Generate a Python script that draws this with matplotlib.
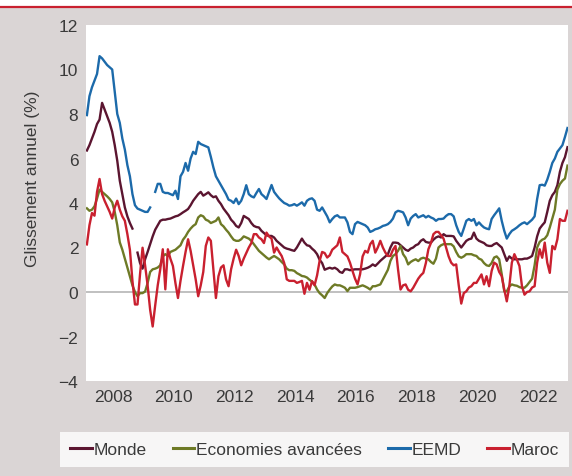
import numpy as np
import matplotlib
matplotlib.use("Agg")
import matplotlib.pyplot as plt
from matplotlib.patches import Rectangle
from matplotlib.lines import Line2D

nan = np.nan

# monthly values, glissement annuel (%)
monde = [6.36, 6.6, 6.9, 7.2, 7.55, 7.75, 8.5, 8.2, 7.9, 7.6, 7.2, 6.6,
         5.9, 5.0, 4.4, 3.8, 3.4, 3.1, 2.85, nan, 1.77, 1.3, 1.05, 1.47,
         1.8, 2.15, 2.5, 2.8, 3.0, 3.2, 3.25, 3.25, 3.28, 3.3, 3.35, 3.4,
         3.43, 3.5, 3.58, 3.65, 3.73, 3.9, 4.1, 4.25, 4.4, 4.5, 4.33, 4.4,
         4.48, 4.35, 4.26, 4.3, 4.1, 3.95, 3.75, 3.6, 3.45, 3.25, 3.13, 2.97,
         2.9, 3.1, 3.42, 3.35, 3.28, 3.1, 2.97, 2.92, 2.9, 2.75, 2.65, 2.55,
         2.52, 2.52, 2.45, 2.3, 2.2, 2.1, 2.0, 1.95, 1.92, 1.88, 1.85, 2.0,
         2.2, 2.4, 2.22, 2.1, 2.07, 1.95, 1.85, 1.7, 1.45, 1.3, 1.0, 1.05,
         1.09, 1.05, 1.09, 1.02, 0.9, 0.86, 1.02, 1.02, 0.98, 1.0, 1.02, 1.02,
         1.02, 1.02, 1.05, 1.09, 1.15, 1.24, 1.17, 1.28, 1.4, 1.5, 1.6, 1.7,
         2.0, 2.22, 2.22, 2.2, 2.1, 2.0, 1.9, 1.85, 1.95, 2.0, 2.1, 2.15,
         2.3, 2.37, 2.25, 2.22, 2.22, 2.35, 2.45, 2.5, 2.45, 2.6, 2.52, 2.52,
         2.52, 2.5, 2.3, 2.15, 2.0, 2.15, 2.3, 2.37, 2.4, 2.67, 2.4, 2.3,
         2.25, 2.2, 2.1, 2.07, 2.07, 2.15, 2.2, 2.1, 2.0, 1.7, 1.4, 1.6,
         1.5, 1.47, 1.47, 1.47, 1.47, 1.5, 1.5, 1.55, 1.62, 2.0, 2.5, 2.85,
         3.0, 3.13, 3.6, 4.1, 4.35, 4.5, 4.8, 5.4, 5.8, 6.06, 6.51]

eco_avancees = [3.76, 3.65, 3.7, 3.85, 4.2, 4.6, 4.5, 4.4, 4.3, 4.18, 4.03, 3.6,
                3.0, 2.23, 1.9, 1.5, 1.1, 0.7, 0.3, 0.0, -0.19, -0.05, -0.05, 0.02,
                0.4, 0.9, 1.02, 1.05, 1.1, 1.2, 1.6, 1.7, 1.62, 1.8, 1.85, 1.9,
                2.0, 2.1, 2.35, 2.5, 2.7, 2.85, 2.97, 3.05, 3.35, 3.45, 3.4, 3.25,
                3.2, 3.1, 3.15, 3.2, 3.35, 3.05, 2.95, 2.8, 2.67, 2.5, 2.35, 2.3,
                2.3, 2.37, 2.5, 2.45, 2.4, 2.3, 2.15, 2.0, 1.85, 1.75, 1.65, 1.55,
                1.47, 1.55, 1.62, 1.55, 1.47, 1.35, 1.24, 1.05, 0.98, 0.98, 0.95, 0.85,
                0.79, 0.72, 0.7, 0.65, 0.55, 0.47, 0.34, 0.11, -0.05, -0.15, -0.27, -0.05,
                0.11, 0.25, 0.34, 0.3, 0.3, 0.25, 0.19, 0.04, 0.19, 0.19, 0.19, 0.22,
                0.26, 0.3, 0.25, 0.19, 0.11, 0.26, 0.26, 0.3, 0.34, 0.56, 0.79, 1.0,
                1.4, 1.62, 1.7, 1.85, 2.07, 1.7, 1.54, 1.24, 1.35, 1.42, 1.47, 1.39,
                1.5, 1.54, 1.5, 1.47, 1.35, 1.27, 1.5, 2.0, 2.1, 2.15, 2.15, 2.15,
                2.15, 2.05, 1.8, 1.6, 1.54, 1.6, 1.7, 1.7, 1.7, 1.65, 1.62, 1.5,
                1.45, 1.3, 1.2, 1.17, 1.3, 1.55, 1.6, 1.47, 0.8, 0.03, 0.03, 0.25,
                0.34, 0.3, 0.28, 0.22, 0.19, 0.19, 0.3, 0.45, 0.6, 1.2, 2.0, 2.25,
                2.35, 2.4, 2.55, 2.9, 3.3, 3.7, 4.6, 4.85, 5.0, 5.1, 5.68]

eemd = [7.95, 8.8, 9.2, 9.5, 9.8, 10.6, 10.5, 10.35, 10.2, 10.1, 10.0, 9.0,
        8.0, 7.6, 6.9, 6.4, 5.7, 5.2, 4.4, 3.9, 3.75, 3.7, 3.65, 3.6,
        3.6, 3.8, nan, 4.5, 4.86, 4.86, 4.5, 4.45, 4.45, 4.4, 4.35, 4.55,
        4.18, 5.2, 5.4, 5.8, 5.45, 6.0, 6.3, 6.2, 6.75, 6.65, 6.6, 6.55,
        6.5, 6.07, 5.6, 5.2, 5.0, 4.8, 4.6, 4.4, 4.15, 4.1, 4.0, 4.2,
        3.95, 4.1, 4.4, 4.8, 4.4, 4.3, 4.25, 4.45, 4.63, 4.4, 4.3, 4.18,
        4.5, 4.81, 4.5, 4.35, 4.21, 4.1, 4.0, 3.95, 3.88, 3.9, 3.95, 3.88,
        3.95, 4.03, 3.88, 4.1, 4.18, 4.21, 4.1, 3.7, 3.65, 3.8, 3.6, 3.4,
        3.13, 3.28, 3.4, 3.45, 3.35, 3.35, 3.35, 3.13, 2.7, 2.6, 3.05, 3.15,
        3.1, 3.05, 3.0, 2.9, 2.7, 2.75, 2.82, 2.85, 2.9, 2.97, 3.0, 3.05,
        3.15, 3.3, 3.58, 3.65, 3.62, 3.58, 3.35, 3.0, 3.3, 3.42, 3.5, 3.35,
        3.4, 3.45, 3.35, 3.42, 3.35, 3.3, 3.2, 3.28, 3.28, 3.3, 3.42, 3.5,
        3.5, 3.4, 3.0, 2.7, 2.52, 2.85, 3.2, 3.28, 3.2, 3.28, 3.0, 3.13,
        3.0, 2.9, 2.85, 2.82, 3.28, 3.45, 3.6, 3.76, 3.2, 2.75, 2.4, 2.6,
        2.75, 2.82, 2.9, 3.0, 3.08, 3.13, 3.05, 3.15, 3.25, 3.4, 4.18, 4.8,
        4.82, 4.78, 5.05, 5.4, 5.8, 6.0, 6.3, 6.45, 6.6, 6.97, 7.37]

maroc = [2.14, 3.0, 3.55, 3.43, 4.5, 5.08, 4.4, 4.1, 3.85, 3.6, 3.3, 3.8,
         4.1, 3.7, 3.4, 3.2, 2.6, 1.9, 0.5, -0.56, -0.56, 0.8, 1.99, 1.2,
         0.3, -0.8, -1.55, -0.6, 0.3, 1.02, 1.92, 0.12, 1.92, 1.5, 1.17, 0.4,
         -0.27, 0.5, 1.17, 1.8, 2.37, 1.85, 1.2, 0.57, -0.19, 0.3, 0.9, 2.07,
         2.45, 2.3, 1.0, -0.27, 0.71, 1.1, 1.2, 0.57, 0.26, 1.02, 1.5, 1.9,
         1.62, 1.2, 1.5, 1.75, 2.0, 2.2, 2.6, 2.6, 2.45, 2.37, 2.2, 2.67,
         2.5, 2.4, 1.77, 2.0, 1.8, 1.62, 1.3, 0.57, 0.5, 0.5, 0.5, 0.41,
         0.45, 0.5, -0.08, 0.41, 0.1, 0.49, 0.3, 0.75, 1.4, 1.8, 1.75, 1.55,
         1.65, 1.9, 2.0, 2.1, 2.45, 1.8, 1.7, 1.6, 1.32, 0.95, 0.6, 0.34,
         0.8, 1.6, 1.85, 1.77, 2.15, 2.3, 1.77, 2.0, 2.3, 2.0, 1.77, 1.62,
         1.62, 1.9, 2.07, 1.02, 0.11, 0.3, 0.34, 0.1, 0.03, 0.19, 0.4, 0.6,
         0.75, 0.86, 1.3, 1.92, 2.2, 2.6, 2.7, 2.7, 2.55, 2.4, 2.0, 1.6,
         1.32, 1.2, 1.24, 0.3, -0.52, -0.05, 0.03, 0.2, 0.26, 0.41, 0.41, 0.6,
         0.79, 0.34, 0.71, 0.26, 0.94, 1.32, 1.24, 0.9, 0.71, 0.11, -0.42, 0.26,
         1.32, 1.7, 1.45, 1.17, 0.26, -0.12, 0.0, 0.03, 0.2, 0.26, 1.32, 1.92,
         1.54, 2.22, 1.32, 0.86, 2.07, 1.92, 2.37, 3.28, 3.2, 3.2, 3.65]

series = [("Monde", monde, "#5b1530"),
          ("Economies avancées", eco_avancees, "#6e7a26"),
          ("EEMD", eemd, "#1c6aaa"),
          ("Maroc", maroc, "#c9202f")]

years = [2008, 2010, 2012, 2014, 2016, 2018, 2020, 2022]
t = 2007.14 + np.arange(len(monde)) / 12.0

plt.rcParams['font.family'] = ['Liberation Sans', 'DejaVu Sans']
FS = 12.5
TXT = "#3a3a3a"
W, H = 572, 477
fig = plt.figure(figsize=(W / 100, H / 100), dpi=100, facecolor="white")

# grey panel background and red rule at the top
fig.patches.append(Rectangle((0, 0), 1, 1 - 8 / H, transform=fig.transFigure,
                             facecolor="#dad5d5", edgecolor="none", zorder=-10))
fig.lines.append(Line2D([0, 1], [1 - 7.5 / H, 1 - 7.5 / H], transform=fig.transFigure,
                        color="#c9202f", lw=1.6))

ax = fig.add_axes([86 / W, (H - 382) / H, 482 / W, 356 / H])
ax.set_facecolor("white")
for s in ax.spines.values():
    s.set_visible(False)

ax.axhline(0, color="#b5b5b5", lw=1.2, zorder=1)
for name, vals, col in series:
    ax.plot(t, np.array(vals, dtype=float), color=col, lw=1.7, label=name, zorder=2)

ax.set_xlim(2007.11, 2022.99)
ax.set_ylim(-4, 12)
ax.set_yticks(range(-4, 13, 2))
ax.set_yticklabels([str(v).replace("-", "\u2212") for v in range(-4, 13, 2)])
ax.set_xticks(years)
ax.set_xticklabels([str(y) for y in years])
ax.tick_params(length=0, labelsize=FS, colors=TXT)
ax.tick_params(axis="x", pad=6)
ax.tick_params(axis="y", pad=5.5)

ax.set_ylabel("Glissement annuel (%)", fontsize=FS, color=TXT)
ax.yaxis.set_label_coords(-0.096, 0.57)

leg = fig.legend(loc="center", bbox_to_anchor=(314.5 / W, 1 - 450.5 / H), ncol=4,
                 frameon=True, fancybox=False, fontsize=FS, handlelength=1.25,
                 handletextpad=0.1, columnspacing=1.5, borderpad=0.6)
leg.get_frame().set_facecolor("white")
leg.get_frame().set_edgecolor("none")
for txt in leg.get_texts():
    txt.set_color(TXT)
for ln in leg.get_lines():
    ln.set_linewidth(2.2)

fig.savefig("out.png", dpi=100, facecolor=fig.get_facecolor())
